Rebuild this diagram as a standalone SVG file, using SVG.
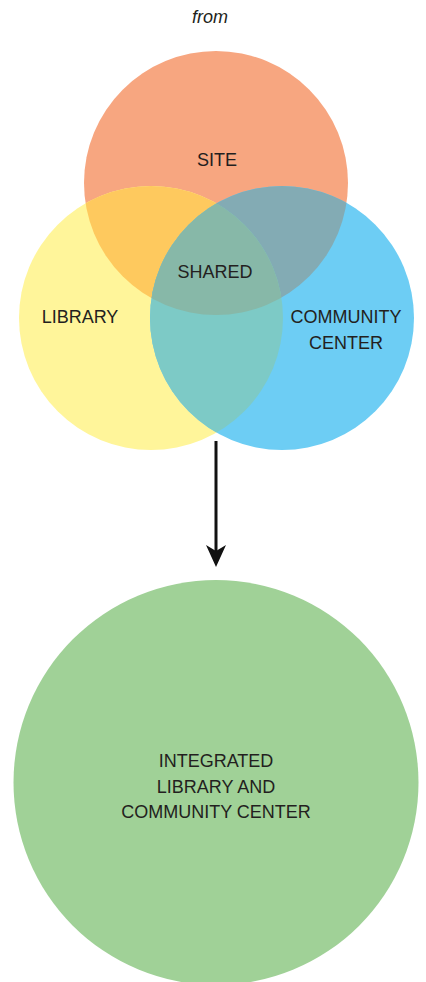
<svg xmlns="http://www.w3.org/2000/svg" width="426" height="982" viewBox="0 0 426 982">
<style>
.lbl{font-family:"Liberation Sans",Arial,sans-serif;font-size:18px;fill:#231F20;text-anchor:middle}
.from{font-family:"Liberation Sans",Arial,sans-serif;font-size:18px;font-style:italic;fill:#231F20;text-anchor:middle}
</style>
<defs>
<clipPath id="cSite"><circle cx="216" cy="183" r="132"/></clipPath>
<clipPath id="cLib"><circle cx="151" cy="318" r="132"/></clipPath>
<clipPath id="cCom"><circle cx="282" cy="318" r="132"/></clipPath>
<marker id="ah" viewBox="0 0 22 20" refX="11" refY="10" markerWidth="22" markerHeight="20" markerUnits="userSpaceOnUse" orient="auto">
<path d="M0,0 L6,10 L0,20 L22,10 Z" fill="#111"/>
</marker>
</defs>
<rect width="426" height="982" fill="#fff"/>
<text class="from" x="210" y="23">from</text>
<g id="site"><circle cx="216" cy="183" r="132" fill="#F7A680"/></g>
<g id="library"><circle cx="151" cy="318" r="132" fill="#FFF59A"/></g>
<g id="community"><circle cx="282" cy="318" r="132" fill="#6DCDF4"/></g>
<g id="overlaps">
<circle cx="151" cy="318" r="132" fill="#FEC95E" clip-path="url(#cSite)"/>
<circle cx="282" cy="318" r="132" fill="#83ABB4" clip-path="url(#cSite)"/>
<circle cx="282" cy="318" r="132" fill="#7DCAC6" clip-path="url(#cLib)"/>
<g clip-path="url(#cSite)"><circle cx="282" cy="318" r="132" fill="#87B8A8" clip-path="url(#cLib)"/></g>
</g>
<g id="labels">
<text class="lbl" x="217" y="166">SITE</text>
<text class="lbl" x="215" y="278">SHARED</text>
<text class="lbl" x="80" y="323">LIBRARY</text>
<text class="lbl" x="346" y="323">COMMUNITY</text>
<text class="lbl" x="346" y="349">CENTER</text>
</g>
<g id="connectors">
<line x1="216" y1="441" x2="216" y2="556" stroke="#111" stroke-width="3" marker-end="url(#ah)"/>
</g>
<g id="integrated">
<circle cx="216" cy="782.5" r="202.5" fill="#A0D197"/>
<text class="lbl" x="216" y="767">INTEGRATED</text>
<text class="lbl" x="216" y="793">LIBRARY AND</text>
<text class="lbl" x="216" y="818">COMMUNITY CENTER</text>
</g>
</svg>
